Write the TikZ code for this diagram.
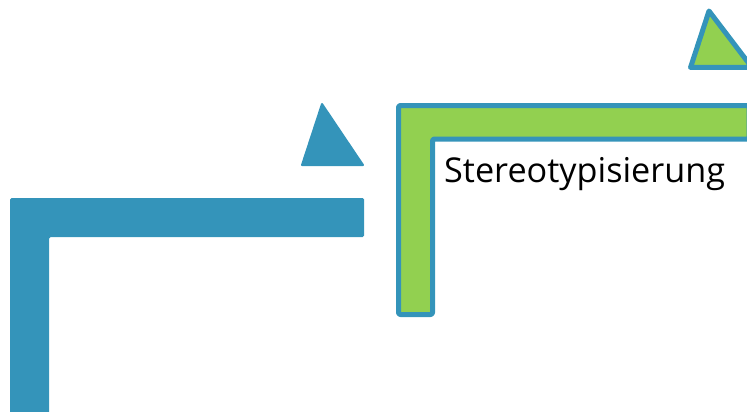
\documentclass[tikz,border=0pt]{standalone}
\usepackage{fontspec}
\setmainfont{Open Sans}
\usetikzlibrary{positioning}
\definecolor{stairblue}{HTML}{3494BA}
\definecolor{stairgreen}{HTML}{92D050}
\tikzset{
  stepline/.style={fill=stairgreen,draw=stairblue,line width=5pt,line join=round},
  arrowtip/.style={line join=round,line width=2pt},
}

\begin{document}
\begin{tikzpicture}[x=1pt,y=-1pt]
  \useasboundingbox (0,0) rectangle (747,412);
  % lower step, solid blue
  \fill[stairblue,rounded corners=1.5pt] (10,416) -- (10,198) -- (364,198) -- (364,237) -- (49,237) -- (49,416) -- cycle;
  \filldraw[stairblue,arrowtip] (322,104) -- (302,165) -- (363,165) -- cycle;
  % upper step, green with blue border
  \draw[stepline,rounded corners=2pt] (398.5,314.5) -- (398.5,105.5) -- (749,105.5) -- (749,139) -- (432.5,139) -- (432.5,314.5) -- cycle;
  \draw[stepline] (709,11) -- (690.5,67.5) -- (752,67.5) -- cycle;
  \node[anchor=base west,inner sep=0pt,font=\fontsize{34.2}{40}\selectfont] (stereo) at (444,182) {Stereotypisierung};
\end{tikzpicture}
\end{document}
